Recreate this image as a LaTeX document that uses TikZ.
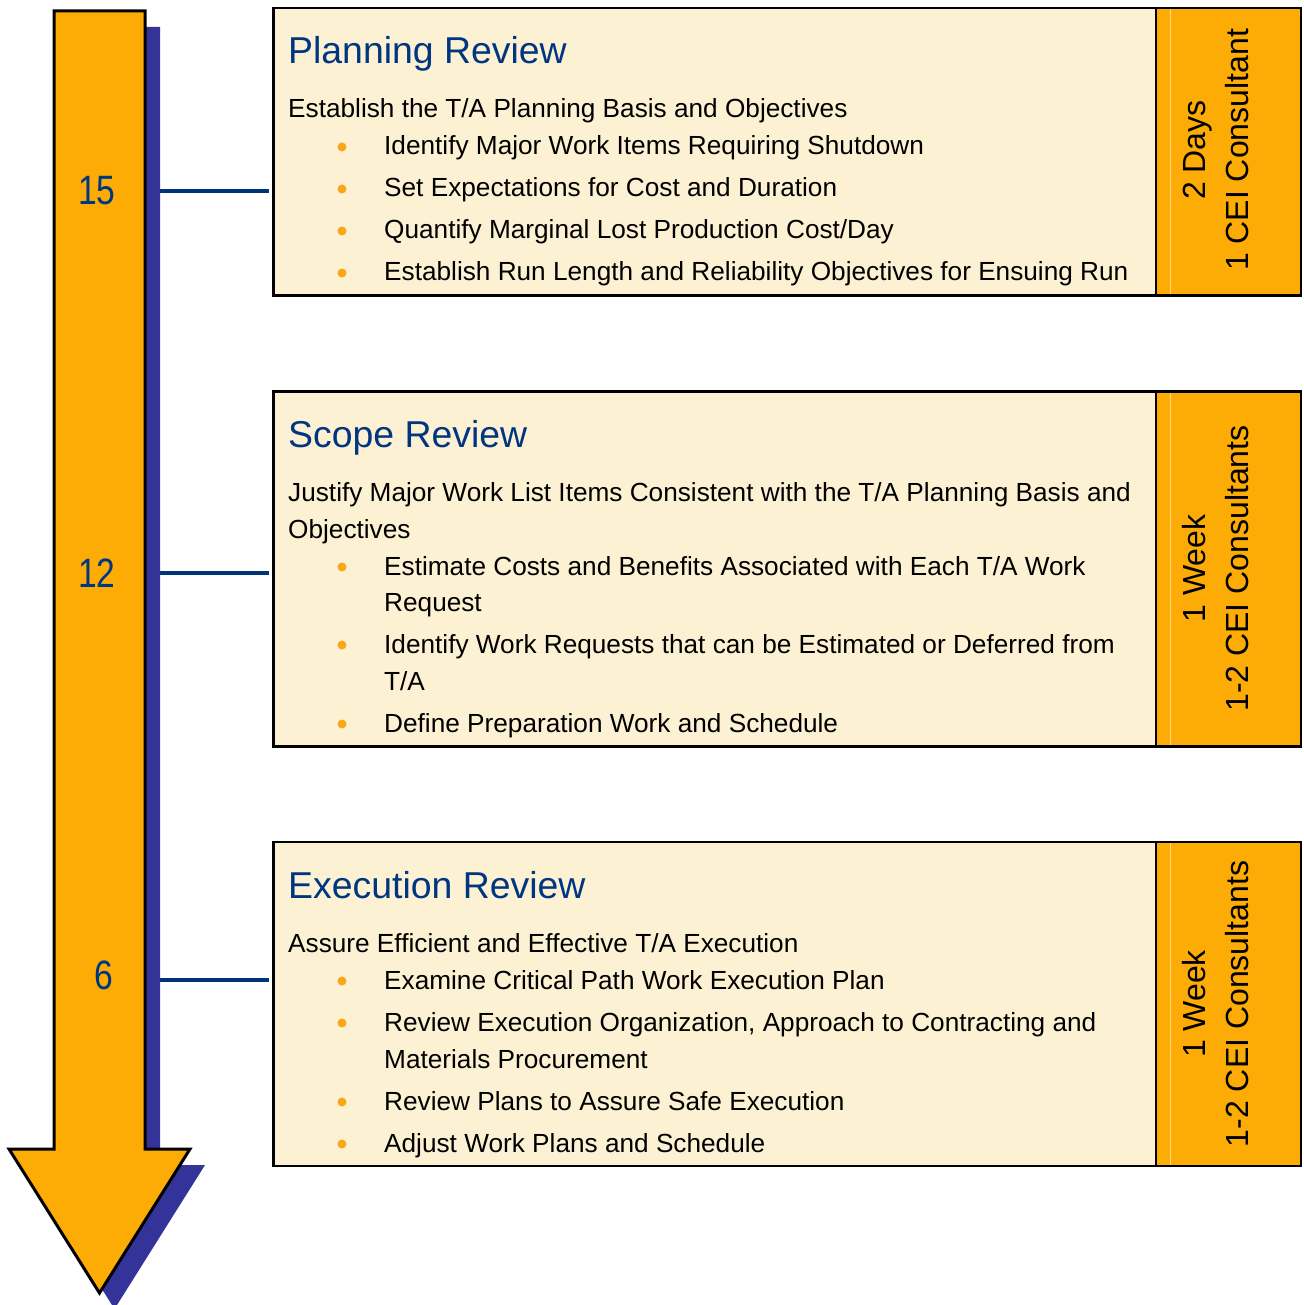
\documentclass[tikz,border=0pt]{standalone}
\usepackage{fontspec}
\setmainfont{Liberation Sans}
\newfontfamily\numfont[FakeStretch=0.82]{Liberation Sans}
\definecolor{arrowor}{RGB}{252,172,4}
\definecolor{shadowb}{RGB}{51,51,153}
\definecolor{cream}{RGB}{253,241,212}
\definecolor{titleb}{RGB}{0,54,128}
\definecolor{lineb}{RGB}{0,52,120}
\definecolor{bulletc}{RGB}{250,166,26}
\definecolor{paneline}{RGB}{255,218,140}
\tikzset{
  boxfill/.style={fill=cream, draw=none, inner sep=0, anchor=north west},
  boxedge/.style={draw=black, line width=2.5pt},
  panelfill/.style={fill=arrowor},
  title/.style={anchor=base west, inner sep=0, text=titleb, font=\fontsize{37.4}{40}\selectfont},
  body/.style={anchor=base west, inner sep=0, text=black, font=\fontsize{26.2}{30}\selectfont},
  dot/.style={circle, fill=bulletc, inner sep=0, minimum size=9pt},
  side/.style={rotate=90, align=center, inner sep=0, font=\fontsize{32}{43}\selectfont},
  num/.style={inner sep=0, text=titleb, font=\numfont\fontsize{41}{44}\selectfont},
  conn/.style={draw=lineb, line width=4pt, shorten >=5pt},
}
\begin{document}
\begin{tikzpicture}[x=1pt,y=-1pt]
\useasboundingbox (0,0) rectangle (1303,1305);
% arrow shadow
\fill[shadowb] (69,27) -- (160,27) -- (160,1165) -- (205,1165) -- (114.5,1309) -- (24,1165) -- (69,1165) -- cycle;
% arrow
\draw[fill=arrowor, line width=3pt, line join=miter] (54,11) -- (145,11) -- (145,1149) -- (190,1149) -- (99.5,1293) -- (9,1149) -- (54,1149) -- cycle;
% numbers
\node[num] (n15) at (97,191) {15};
\node[num] (n12) at (97,573) {12};
\node[num] (n6) at (104,975) {6};
\coordinate (c15) at (160,191);
\coordinate (c12) at (160,573);
\coordinate (c6) at (160,980);

% ---------- box 1
\node[boxfill, minimum width=1027pt, minimum height=287pt] (box1) at (273.5,8) {};
\fill[panelfill] (1156,8) rectangle (1300,295);
\draw[paneline, line width=1pt] (1170,9) -- (1170,294);
\draw[boxedge] (box1.north west) rectangle (box1.south east);
\draw[boxedge] (1156,8) -- (1156,295);
\node[title] (t1) at (288,64) {Planning Review};
\node[body] (l1a) at (288,118) {Establish the T/A Planning Basis and Objectives};
\node[dot] (d1a) at (342,147) {};
\node[body] (l1b) at (384,155) {Identify Major Work Items Requiring Shutdown};
\node[dot] (d1b) at (342,189) {};
\node[body] (l1c) at (384,197) {Set Expectations for Cost and Duration};
\node[dot] (d1c) at (342,231) {};
\node[body] (l1d) at (384,239) {Quantify Marginal Lost Production Cost/Day};
\node[dot] (d1d) at (342,273) {};
\node[body] (l1e) at (384,281) {Establish Run Length and Reliability Objectives for Ensuing Run};
\node[side] (s1) at (1216,150) {2 Days\\1 CEI Consultant};

% ---------- box 2
\node[boxfill, minimum width=1027pt, minimum height=354.5pt] (box2) at (273.5,391.5) {};
\fill[panelfill] (1156,391.5) rectangle (1300,746);
\draw[paneline, line width=1pt] (1170,393) -- (1170,745);
\draw[boxedge] (box2.north west) rectangle (box2.south east);
\draw[boxedge] (1156,391.5) -- (1156,746);
\node[title] (t2) at (288,447) {Scope Review};
\node[body] (l2a) at (288,501) {Justify Major Work List Items Consistent with the T/A Planning Basis and};
\node[body] (l2b) at (288,538) {Objectives};
\node[dot] (d2a) at (342,567) {};
\node[body] (l2c) at (384,575) {Estimate Costs and Benefits Associated with Each T/A Work};
\node[body] (l2d) at (384,611) {Request};
\node[dot] (d2b) at (342,645) {};
\node[body] (l2e) at (384,653) {Identify Work Requests that can be Estimated or Deferred from};
\node[body] (l2f) at (384,690) {T/A};
\node[dot] (d2c) at (342,724) {};
\node[body] (l2g) at (384,732) {Define Preparation Work and Schedule};
\node[side] (s2) at (1216,568.5) {1 Week\\1-2 CEI Consultants};

% ---------- box 3
\node[boxfill, minimum width=1027pt, minimum height=323.5pt] (box3) at (273.5,842) {};
\fill[panelfill] (1156,842) rectangle (1300,1165.5);
\draw[paneline, line width=1pt] (1170,843) -- (1170,1164.5);
\draw[boxedge] (box3.north west) rectangle (box3.south east);
\draw[boxedge] (1156,842) -- (1156,1165.5);
\node[title] (t3) at (288,898) {Execution Review};
\node[body] (l3a) at (288,952) {Assure Efficient and Effective T/A Execution};
\node[dot] (d3a) at (342,981) {};
\node[body] (l3b) at (384,989) {Examine Critical Path Work Execution Plan};
\node[dot] (d3b) at (342,1023) {};
\node[body] (l3c) at (384,1031) {Review Execution Organization, Approach to Contracting and};
\node[body] (l3d) at (384,1068) {Materials Procurement};
\node[dot] (d3c) at (342,1102) {};
\node[body] (l3e) at (384,1110) {Review Plans to Assure Safe Execution};
\node[dot] (d3d) at (342,1144) {};
\node[body] (l3f) at (384,1152) {Adjust Work Plans and Schedule};
\node[side] (s3) at (1216,1004) {1 Week\\1-2 CEI Consultants};

% connectors
\draw[conn] (c15) -- (box1.west |- c15);
\draw[conn] (c12) -- (box2.west |- c12);
\draw[conn] (c6) -- (box3.west |- c6);
\end{tikzpicture}
\end{document}
